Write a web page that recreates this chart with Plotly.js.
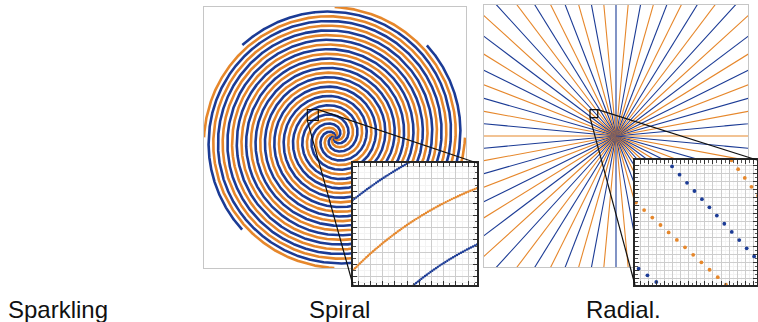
<!DOCTYPE html>
<html><head><meta charset="utf-8">
<script src="https://cdn.plot.ly/plotly-3.0.1.min.js"></script>
<style>html,body{margin:0;padding:0;background:#fff}#chart{width:758px;height:322px}</style>
</head><body><div id="chart"></div>
<script>
// ---------- data ----------
const COLORS = {blue: '#1b3b95', orange: '#e6872b'};
// Spiral: eight interleaved arms (phase in degrees), alternating colours
const armPhaseDeg = [12, 57, 102, 147, 192, 237, 282, 327];
const armColor = ['orange', 'blue', 'orange', 'blue', 'orange', 'blue', 'orange', 'blue'];
const spiralSweepDeg = [1248];
const spiralOuterRadius = [130.5];
const spiralSampleStep = [0.2];
// Radial: rays from the centre, alternating colours
const rayCount = [68];
const rayColor = ['orange', 'blue'];
const raySampleStep = [0.7015];
const raySamples = [270];
// Zoom boxes (data units of the main panels)
const spiralZoomX = [-27.2, -16.2];
const spiralZoomY = [17.08, 27.9];
const radialZoomX = [-25.98, -18.25];
const radialZoomY = [18.40, 26.33];
// Labels
const panelLabels = ['Sparkling', 'Spiral', 'Radial.'];

// ---------- helpers ----------
const W = 758, H = 322;
const px = v => v / W, py = v => 1 - v / H;

function spiralArm(phiDeg) {
  const T = spiralSweepDeg[0] * Math.PI / 180, a = spiralOuterRadius[0] / T;
  const phi = phiDeg * Math.PI / 180, xs = [], ys = [];
  let th = 0;
  while (th <= T + 1e-9) {
    const r = a * th;
    xs.push(r * Math.cos(phi + th)); ys.push(r * Math.sin(phi + th));
    th += spiralSampleStep[0] / Math.sqrt(r * r + a * a);
  }
  return [xs, ys];
}
function inBox(x, y, bx, by, m) {
  return x >= bx[0] - m && x <= bx[1] + m && y >= by[0] - m && y <= by[1] + m;
}

const mainSpiral = [], insetSpiral = [], mainRadial = [], insetRadial = [];
armPhaseDeg.forEach((ph, i) => {
  const [xs, ys] = spiralArm(ph), c = COLORS[armColor[i]];
  mainSpiral.push({type: 'scatter', mode: 'lines', x: xs, y: ys, xaxis: 'x', yaxis: 'y', line: {color: c, width: 2.6}, hoverinfo: 'skip'});
  const ix = [], iy = [];
  xs.forEach((x, j) => { if (inBox(x, ys[j], spiralZoomX, spiralZoomY, 0.5)) { ix.push(x); iy.push(ys[j]); } });
  if (ix.length) insetSpiral.push({type: 'scatter', mode: 'markers', x: ix, y: iy, xaxis: 'x4', yaxis: 'y4', marker: {color: c, size: 2.4}, hoverinfo: 'skip'});
});
for (let k = 0; k < rayCount[0]; k++) {
  const ang = k * 2 * Math.PI / rayCount[0], c = COLORS[rayColor[k % 2]];
  const xs = [], ys = [], ix = [], iy = [];
  for (let n = 0; n <= raySamples[0]; n++) {
    const r = n * raySampleStep[0], x = r * Math.cos(ang), y = r * Math.sin(ang);
    xs.push(x); ys.push(y);
    if (inBox(x, y, radialZoomX, radialZoomY, 0.3)) { ix.push(x); iy.push(y); }
  }
  mainRadial.push({type: 'scatter', mode: 'lines', x: xs, y: ys, xaxis: 'x2', yaxis: 'y2', line: {color: c, width: 1.1}, hoverinfo: 'skip'});
  if (ix.length) insetRadial.push({type: 'scatter', mode: 'markers', x: ix, y: iy, xaxis: 'x6', yaxis: 'y6', marker: {color: c, size: 3.8}, hoverinfo: 'skip'});
}
const cover = (xa, ya) => ({type: 'scatter', mode: 'lines', x: [0, 1, 1, 0, 0], y: [0, 0, 1, 1, 0], fill: 'toself', fillcolor: '#fff', line: {width: 0, color: '#fff'}, xaxis: xa, yaxis: ya, hoverinfo: 'skip'});
const data = [].concat(mainSpiral, mainRadial, [cover('x3', 'y3')], insetSpiral, [cover('x5', 'y5')], insetRadial);

// ---------- layout ----------
const frame = {showline: true, mirror: true, linecolor: '#c6c6c6', linewidth: 1, showgrid: false, zeroline: false, ticks: '', showticklabels: false, fixedrange: true};
const hidden = {visible: false, range: [0, 1], fixedrange: true};
function insetAx(domain, range, dtick, tick0, anchor) {
  return {domain, range, anchor, showline: true, mirror: 'ticks', linecolor: '#262626', linewidth: 1.6,
    ticks: 'inside', ticklen: 4, tickwidth: 1, tickcolor: '#333', dtick, tick0,
    showgrid: true, gridcolor: '#cdcdcd', gridwidth: 1, zeroline: false, showticklabels: false, fixedrange: true,
    minor: {dtick: dtick / 2, tick0, ticks: 'inside', ticklen: 2.5, tickcolor: '#555', showgrid: true, gridcolor: '#f3f3f3'}};
}
const spInsX = [353, 477], spInsY = [163, 285];
const raInsX = [635, 757], raInsY = [160, 285];
const spM = (spInsX[1] - spInsX[0]) / (spiralZoomX[1] - spiralZoomX[0]);
const raM = (raInsX[1] - raInsX[0]) / (radialZoomX[1] - radialZoomX[0]);

const layout = {
  width: W, height: H, margin: {l: 0, r: 0, t: 0, b: 0}, showlegend: false,
  paper_bgcolor: '#fff', plot_bgcolor: 'rgba(0,0,0,0)',
  xaxis: Object.assign({}, frame, {domain: [px(204), px(466)], range: [-130.5, 131.5], anchor: 'y'}),
  yaxis: Object.assign({}, frame, {domain: [py(268), py(7)], range: [-130.5, 130.5], anchor: 'x'}),
  xaxis2: Object.assign({}, frame, {domain: [px(484), px(748)], range: [-132, 132], anchor: 'y2'}),
  yaxis2: Object.assign({}, frame, {domain: [py(267), py(5)], range: [-131, 131], anchor: 'x2'}),
  xaxis3: Object.assign({}, hidden, {domain: [px(spInsX[0]), px(spInsX[1])], anchor: 'y3'}),
  yaxis3: Object.assign({}, hidden, {domain: [py(spInsY[1]), py(spInsY[0])], anchor: 'x3'}),
  xaxis4: insetAx([px(spInsX[0]), px(spInsX[1])], spiralZoomX, 12.2 / spM, spiralZoomX[0] + 5.3 / spM, 'y4'),
  yaxis4: insetAx([py(spInsY[1]), py(spInsY[0])], [spiralZoomY[1] - (spInsY[1] - spInsY[0]) / spM, spiralZoomY[1]], 12.2 / spM, spiralZoomY[1] - 3.7 / spM, 'x4'),
  xaxis5: Object.assign({}, hidden, {domain: [px(raInsX[0]), px(raInsX[1])], anchor: 'y5'}),
  yaxis5: Object.assign({}, hidden, {domain: [py(raInsY[1]), py(raInsY[0])], anchor: 'x5'}),
  xaxis6: insetAx([px(raInsX[0]), px(raInsX[1])], radialZoomX, 8.1 / raM, radialZoomX[0] + 5 / raM, 'y6'),
  yaxis6: insetAx([py(raInsY[1]), py(raInsY[0])], [radialZoomY[1] - (raInsY[1] - raInsY[0]) / raM, radialZoomY[1]], 8.1 / raM, radialZoomY[1] - 5 / raM, 'x6'),
  shapes: [],
  annotations: []
};
// zoom boxes and connectors
function toPx(x, y, cx, cy) { return [cx + x, cy - y]; }
const boxLine = {color: '#111', width: 1.2};
layout.shapes.push({type: 'rect', xref: 'x', yref: 'y', x0: spiralZoomX[0], x1: spiralZoomX[1], y0: spiralZoomY[0], y1: spiralZoomY[1], line: boxLine, layer: 'above'});
layout.shapes.push({type: 'rect', xref: 'x2', yref: 'y2', x0: radialZoomX[0], x1: radialZoomX[1], y0: radialZoomY[0], y1: radialZoomY[1], line: boxLine, layer: 'above'});
let ur = toPx(spiralZoomX[1], spiralZoomY[1], 334.5, 137.5), ll = toPx(spiralZoomX[0], spiralZoomY[0], 334.5, 137.5);
layout.shapes.push({type: 'line', xref: 'paper', yref: 'paper', x0: px(ur[0]), y0: py(ur[1]), x1: px(spInsX[1]), y1: py(spInsY[0]), line: boxLine, layer: 'above'});
layout.shapes.push({type: 'line', xref: 'paper', yref: 'paper', x0: px(ll[0]), y0: py(ll[1]), x1: px(spInsX[0]), y1: py(spInsY[1]), line: boxLine, layer: 'above'});
ur = toPx(radialZoomX[1], radialZoomY[1], 616, 136); ll = toPx(radialZoomX[0], radialZoomY[0], 616, 136);
layout.shapes.push({type: 'line', xref: 'paper', yref: 'paper', x0: px(ur[0]), y0: py(ur[1]), x1: px(raInsX[1]), y1: py(raInsY[0]), line: boxLine, layer: 'above'});
layout.shapes.push({type: 'line', xref: 'paper', yref: 'paper', x0: px(ll[0]), y0: py(ll[1]), x1: px(raInsX[0]), y1: py(raInsY[1]), line: boxLine, layer: 'above'});

const labelX = [7, 308, 585];
panelLabels.forEach((t, i) => layout.annotations.push({text: t, xref: 'paper', yref: 'paper', x: px(labelX[i]), y: 0, xanchor: 'left', yanchor: 'bottom', yshift: -2, showarrow: false, borderpad: 0, font: {family: 'Liberation Sans, Arial, sans-serif', size: 24, color: '#111'}}));

Plotly.newPlot('chart', data, layout, {staticPlot: true, displayModeBar: false});
</script></body></html>
